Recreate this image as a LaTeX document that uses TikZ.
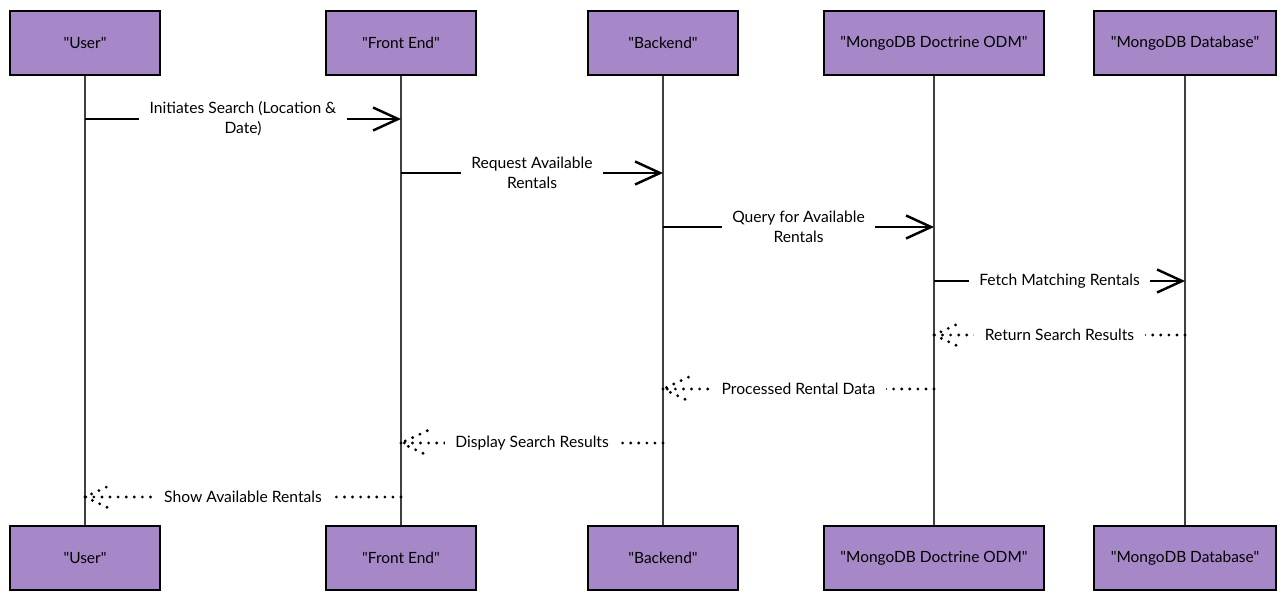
\documentclass[tikz,border=0pt]{standalone}
\usepackage{fontspec}
\setmainfont{Lato}[Ligatures=TeXOff]
\usetikzlibrary{arrows.meta}
\definecolor{actorfill}{HTML}{A688C8}
\tikzset{
    actor/.style={draw=black, fill=actorfill, line width=1.4pt,
        minimum height=1.28cm, font=\fontsize{8.8}{10}\selectfont},
    lifeline/.style={draw=black!75, line width=0.8pt},
    call/.style={line width=1.4pt,
        -{Straight Barb[length=0.5cm,width=0.46cm,line width=1.4pt]}},
    reply/.style={line width=1.8pt, dash pattern=on 0pt off 4.6pt, line cap=round},
    msg/.style={fill=white, align=center, inner xsep=6pt, inner ysep=1pt,
        font=\fontsize{8.9}{11.4}\selectfont}
}
\begin{document}
\begin{tikzpicture}[x=0.02cm, y=-0.02cm]

\useasboundingbox (0,0) rectangle (1285,602);

\node [actor,
    minimum width=3cm] (U1) at (85,43){"User"};

\node [actor,
    minimum width=3cm] (F1) at (401,43){"Front End"};

\node [actor,
    minimum width=3cm] (B1) at (663,43){"Backend"};

\node [actor,
    minimum width=4.4cm] (O1) at (934,43){"MongoDB Doctrine ODM"};

\node [actor,
    minimum width=3.64cm] (D1) at (1185,43){"MongoDB Database"};

\node [actor,
    minimum width=3cm] (U2) at (85,558){"User"};

\node [actor,
    minimum width=3cm] (F2) at (401,558){"Front End"};

\node [actor,
    minimum width=3cm] (B2) at (663,558){"Backend"};

\node [actor,
    minimum width=4.4cm] (O2) at (934,558){"MongoDB Doctrine ODM"};

\node [actor,
    minimum width=3.64cm] (D2) at (1185,558){"MongoDB Database"};

\draw [lifeline] (U1.south) -- (U2.north);
\draw [lifeline] (F1.south) -- (F2.north);
\draw [lifeline] (B1.south) -- (B2.north);
\draw [lifeline] (O1.south) -- (O2.north);
\draw [lifeline] (D1.south) -- (D2.north);

\draw [call] (U1 |- 0,119) -- node[msg]{Initiates Search (Location \&\\Date)} (F1 |- 0,119);
\draw [call] (F1 |- 0,173) -- node[msg]{Request Available\\Rentals} (B1 |- 0,173);
\draw [call] (B1 |- 0,227) -- node[msg]{Query for Available\\Rentals} (O1 |- 0,227);
\draw [call] (O1 |- 0,281) -- node[msg]{Fetch Matching Rentals} (D1 |- 0,281);

\draw [reply] (D1 |- 0,335) -- node[msg]{Return Search Results} (O1 |- 0,335)
    -- ++(28,-13) (O1 |- 0,335) -- ++(28,13);
\draw [reply] (O1 |- 0,389) -- node[msg]{Processed Rental Data} (B1 |- 0,389)
    -- ++(28,-13) (B1 |- 0,389) -- ++(28,13);
\draw [reply] (B1 |- 0,443) -- node[msg]{Display Search Results} (F1 |- 0,443)
    -- ++(28,-13) (F1 |- 0,443) -- ++(28,13);
\draw [reply] (F1 |- 0,497) -- node[msg]{Show Available Rentals} (U1 |- 0,497)
    -- ++(28,-13) (U1 |- 0,497) -- ++(28,13);

\end{tikzpicture}
\end{document}
